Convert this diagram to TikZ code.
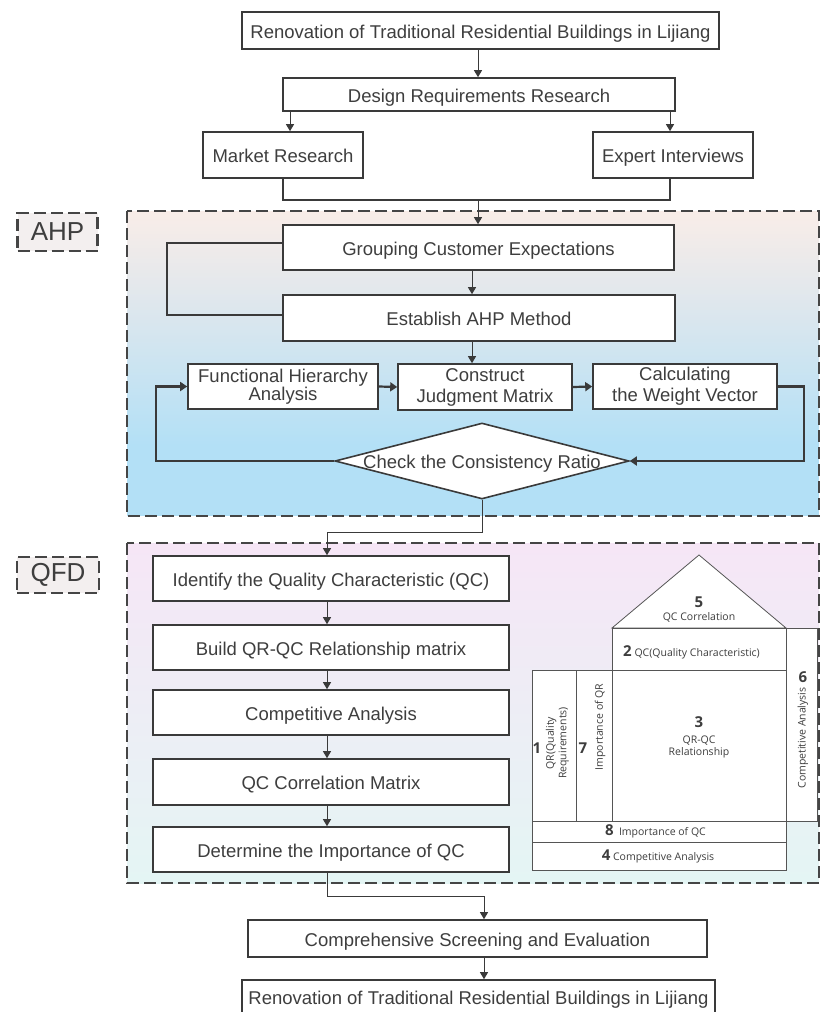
\documentclass[tikz,border=0pt]{standalone}
\usepackage{fontspec}
\setmainfont{Liberation Sans}
\newfontfamily\hqfont{Open Sans}
\usetikzlibrary{shapes.geometric,arrows.meta}
\definecolor{ln}{HTML}{3A3A3A}
\definecolor{tx}{HTML}{3E3E3E}
\definecolor{dsh}{HTML}{454545}
\definecolor{ahpTop}{HTML}{F9EDE8}
\definecolor{ahpMid}{HTML}{E4E8EC}
\definecolor{ahpBlue}{HTML}{B3E0F6}
\definecolor{qfdTop}{HTML}{F6E6F6}
\definecolor{qfdBot}{HTML}{E4F5F4}
\definecolor{labfill}{HTML}{F3EFEF}
\definecolor{hq}{HTML}{555555}
\begin{document}
\begin{tikzpicture}[x=1pt,y=-1pt,
  box/.style={draw=ln, line width=1.6pt, fill=white, inner sep=0pt, text=tx,
    font=\fontsize{18.5}{21}\selectfont, align=center},
  one/.style={text height=15pt, text depth=0pt},
  arr/.style={draw=ln, line width=1pt, -{Triangle[length=7pt,width=8pt]}},
  tarr/.style={draw=ln, line width=2.2pt, -{Triangle[length=7pt,width=9pt]}},
  tline/.style={draw=ln, line width=2pt},
  dashbox/.style={draw=dsh, line width=2.5pt, dash pattern=on 12pt off 5pt},
  lab/.style={dashbox, fill=labfill, text=tx, inner sep=0pt, font=\fontsize{26}{28}\selectfont},
  hqline/.style={draw=hq, line width=0.8pt, fill=white},
  hqtxt/.style={text=tx, inner sep=0pt, font=\hqfont\fontsize{10.5}{12.5}\selectfont, align=center},
  hqnum/.style={text=tx, inner sep=0pt, font=\hqfont\bfseries\fontsize{15}{16}\selectfont}]
\useasboundingbox (0,0) rectangle (821,1012);
% ---------- backgrounds ----------
\shade[top color=ahpTop, bottom color=ahpMid] (127,211) rectangle (819,285);
\shade[top color=ahpMid, bottom color=ahpBlue] (127,285) rectangle (819,445);
\fill[ahpBlue] (127,445) rectangle (819,516);
\draw[dashbox] (127,211) rectangle (819,516);
\shade[top color=qfdTop, bottom color=qfdBot] (127,543) rectangle (819,883);
\draw[dashbox] (127,543) rectangle (819,883);
\node[lab, minimum width=80pt, minimum height=38pt] (ahplab) at (57.5,232) {AHP};
\node[lab, minimum width=82pt, minimum height=36pt] (qfdlab) at (58,575) {QFD};
% ---------- top part ----------
\node[box, one, minimum width=477pt, minimum height=37pt] (top) at (480.5,30.5) {Renovation of Traditional Residential Buildings in Lijiang};
\node[box, one, minimum width=392pt, minimum height=33pt] (design) at (479,94.5) {Design Requirements Research};
\node[box, one, minimum width=160pt, minimum height=46pt] (market) at (283,155) {Market Research};
\node[box, one, minimum width=160pt, minimum height=46pt] (expert) at (673,155) {Expert Interviews};
\draw[arr] ([xshift=-2.5pt]top.south) -- ([xshift=-1pt]design.north);
\draw[arr] ([xshift=-189pt]design.south) -- ([xshift=7pt]market.north);
\draw[arr] ([xshift=191pt]design.south) -- ([xshift=-3pt]expert.north);
\draw[tline] (market.south) -- ++(0,21) -| ([xshift=-3pt]expert.south);
\coordinate (j1) at (478,199);
% ---------- AHP ----------
\node[box, one, minimum width=391pt, minimum height=45pt] (grouping) at (478.5,247.5) {Grouping Customer Expectations};
\node[box, one, minimum width=392pt, minimum height=46pt] (establish) at (479,318) {Establish AHP Method};
\node[box, minimum width=190pt, minimum height=45pt, font=\fontsize{18.5}{17.5}\selectfont] (functional) at (283,386.5) {Functional Hierarchy\\Analysis};
\node[box, minimum width=174pt, minimum height=46pt] (construct) at (485,387) {Construct\\Judgment Matrix};
\node[box, minimum width=184pt, minimum height=45pt] (calculating) at (685,386.5) {Calculating\\the Weight Vector};
\node[draw=ln, line width=1.6pt, fill=white, diamond, inner sep=0pt, minimum width=294pt, minimum height=76pt] (check) at (482,461) {};
\node[text=tx, inner sep=0pt, font=\fontsize{18.5}{21}\selectfont, one] (checklbl) at (check.center) {Check the Consistency Ratio};
\draw[arr] (j1) -- ([xshift=-0.5pt]grouping.north);
\draw[tline] ([yshift=4.5pt]grouping.west) -- ++(-115,0) |- ([yshift=3pt]establish.west);
\draw[arr] ([xshift=-6.5pt]grouping.south) -- ([xshift=-7pt]establish.north);
\draw[arr] ([xshift=-7pt]establish.south) -- ([xshift=-13pt]construct.north);
\draw[tarr] (functional.east) -- (construct.west);
\draw[tarr] (construct.east) -- (calculating.west);
\draw[tarr] (calculating.east) -- ++(26,0) |- (check.east);
\draw[tarr] (check.west) -- ++(-178,0) |- (functional.west);
% ---------- QFD ----------
\node[box, one, minimum width=356pt, minimum height=45pt] (identify) at (331,578.5) {Identify the Quality Characteristic (QC)};
\node[box, one, minimum width=356pt, minimum height=45pt] (build) at (331,647.5) {Build QR-QC Relationship matrix};
\node[box, one, minimum width=356pt, minimum height=45pt] (compet) at (331,712.5) {Competitive Analysis};
\node[box, one, minimum width=356pt, minimum height=46pt] (qccorr) at (331,782) {QC Correlation Matrix};
\node[box, one, minimum width=356pt, minimum height=45pt] (determine) at (331,849.5) {Determine the Importance of QC};
\draw[arr] (check.south) -- ++(0,33) -| ([xshift=-4pt]identify.north);
\draw[arr] ([xshift=-4pt]identify.south) -- ([xshift=-4pt]build.north);
\draw[arr] ([xshift=-4pt]build.south) -- ([xshift=-4pt]compet.north);
\draw[arr] ([xshift=-4pt]compet.south) -- ([xshift=-4pt]qccorr.north);
\draw[arr] ([xshift=-4pt]qccorr.south) -- ([xshift=-4pt]determine.north);
% ---------- House of quality ----------
\draw[hqline] (612,628) -- (699,555) -- (786,628) -- cycle;
\draw[hqline] (612,628) rectangle (786,670);
\draw[hqline] (786,628) rectangle (817,821);
\draw[hqline] (532,670) rectangle (576,821);
\draw[hqline] (576,670) rectangle (612,821);
\draw[hqline] (612,670) rectangle (786,821);
\draw[hqline] (532,821) rectangle (786,842);
\draw[hqline] (532,842) rectangle (786,870);
\node[hqnum] (n5) at (699,602) {5};
\node[hqtxt] (t5) at (699,617) {QC Correlation};
\node[hqtxt] (t2) at (691.5,652) {{\bfseries\fontsize{15}{16}\selectfont 2} QC(Quality Characteristic)};
\node[hqnum] (n6) at (803,677) {6};
\node[hqtxt, rotate=90] (t6) at (803,738) {Competitive Analysis};
\node[hqnum] (n3) at (699,722) {3};
\node[hqtxt] (t3) at (699,747) {QR-QC\\Relationship};
\node[hqnum] (n1) at (537,748) {1};
\node[hqtxt, rotate=90] (t1) at (557.5,743) {QR(Quality\\Requirements)};
\node[hqnum] (n7) at (583,748) {7};
\node[hqtxt, rotate=90] (t7) at (600,727) {Importance of QR};
\node[hqtxt] (t8) at (655.5,831) {{\bfseries\fontsize{15}{16}\selectfont 8}\enspace Importance of QC};
\node[hqtxt] (t4) at (658,856) {{\bfseries\fontsize{15}{16}\selectfont 4} Competitive Analysis};
% ---------- bottom ----------
\node[box, one, minimum width=459pt, minimum height=37pt] (compre) at (477.5,938.5) {Comprehensive Screening and Evaluation};
\node[box, one, minimum width=473pt, minimum height=34pt] (final) at (478.5,997) {Renovation of Traditional Residential Buildings in Lijiang};
\draw[arr] ([xshift=-4pt]determine.south) -- ++(0,24) -| ([xshift=6.5pt]compre.north);
\draw[arr] ([xshift=6.5pt]compre.south) -- ([xshift=5.5pt]final.north);
\end{tikzpicture}
\end{document}
